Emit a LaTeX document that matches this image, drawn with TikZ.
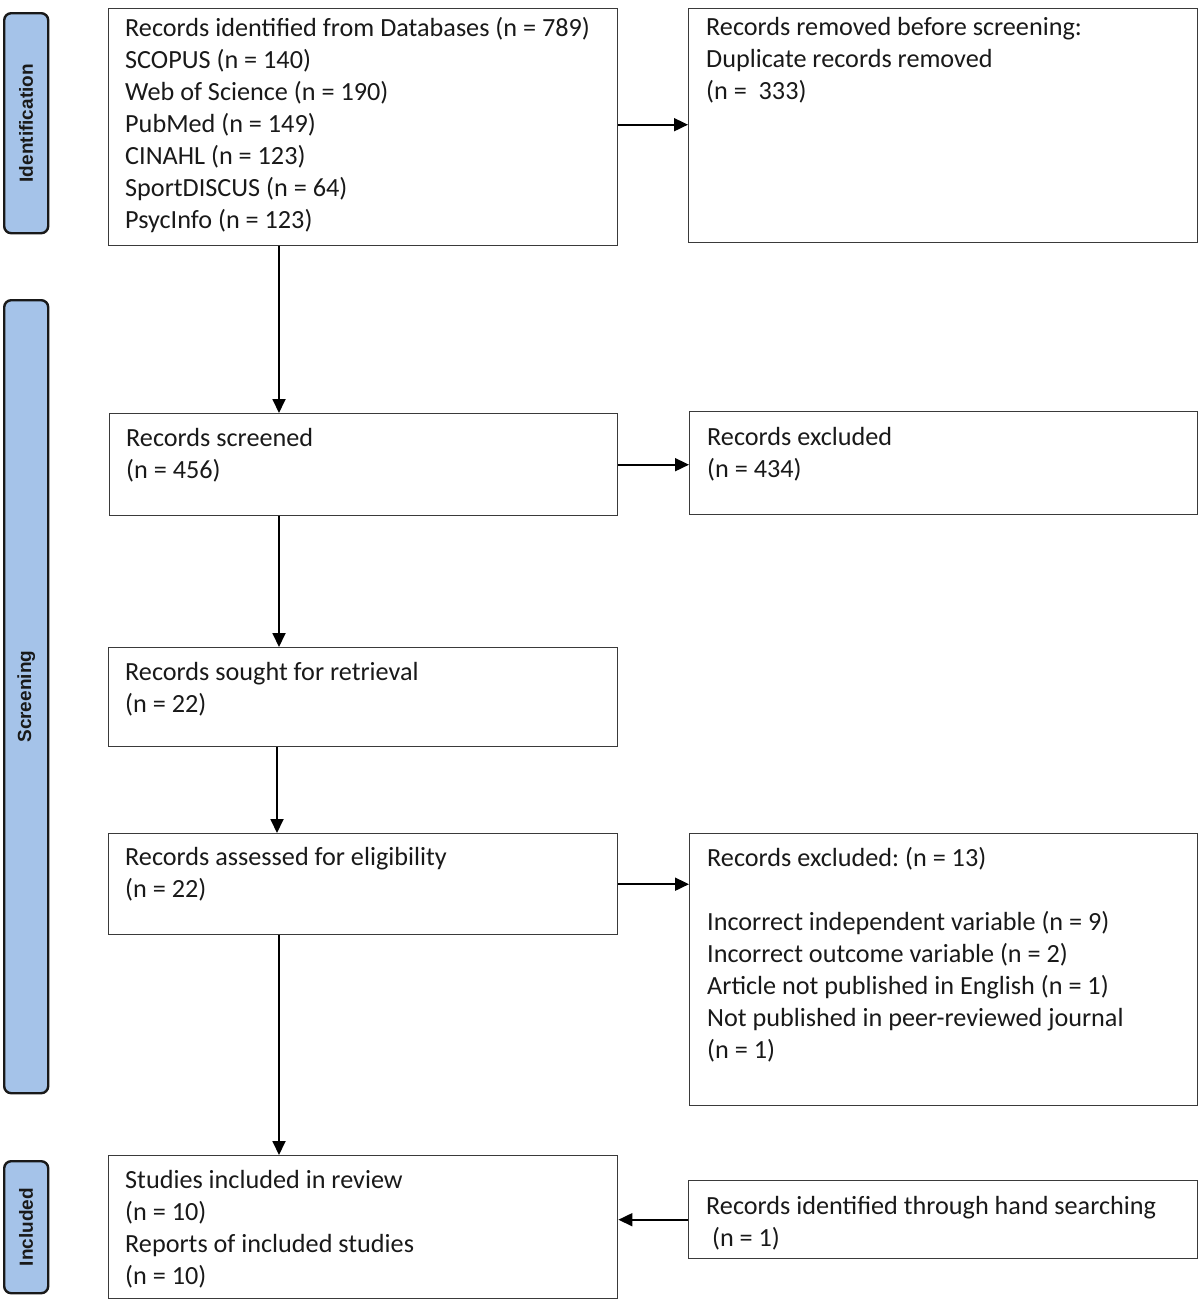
\documentclass[tikz,border=0pt]{standalone}
\usepackage{fontspec}
\setmainfont{Carlito}
\newfontfamily\labelfont{Liberation Sans}
\usetikzlibrary{arrows.meta,calc}
\definecolor{sideblue}{HTML}{A5C3E9}
\definecolor{boxline}{HTML}{3A3A3A}
\begin{document}
\frenchspacing
\begin{tikzpicture}[x=1pt,y=-1pt,
  box/.style={draw=boxline,line width=1.4pt,rectangle,inner sep=0pt,anchor=north west},
  txt/.style={anchor=north west,inner sep=0pt,align=left,font=\fontsize{26.2}{32}\selectfont,text=black!90},
  side/.style={draw=black!90,line width=2.4pt,fill=sideblue,rounded corners=7pt,rectangle,inner sep=0pt,anchor=north west,minimum width=44pt},
  sidetxt/.style={rotate=90,font=\labelfont\bfseries\fontsize{19}{22}\selectfont,text=black!90},
  arr/.style={line width=1.8pt,-{Triangle[length=14pt,width=13pt]}}]
\useasboundingbox (0,0) rectangle (1200,1299);
% side labels
\node[side,minimum height=220pt] (s1) at (3,12) {};
\node[sidetxt] (t1) at (s1.center) {Identification};
\node[side,minimum height=793pt] (s2) at (3,299) {};
\node[sidetxt] (t2) at (s2.center) {Screening};
\node[side,minimum height=132pt] (s3) at (3,1160) {};
\node[sidetxt] (t3) at (s3.center) {Included};
% boxes
\node[box,minimum width=509pt,minimum height=237pt] (A) at (108,8) {};
\node[box,minimum width=509pt,minimum height=234pt] (B) at (688,8) {};
\node[box,minimum width=508pt,minimum height=102pt] (C) at (109,413) {};
\node[box,minimum width=508pt,minimum height=103pt] (D) at (689,411) {};
\node[box,minimum width=509pt,minimum height=99pt] (E) at (108,647) {};
\node[box,minimum width=509pt,minimum height=101pt] (F) at (108,833) {};
\node[box,minimum width=508pt,minimum height=272pt] (G) at (689,833) {};
\node[box,minimum width=509pt,minimum height=143pt] (H) at (108,1155) {};
\node[box,minimum width=509pt,minimum height=78pt] (I) at (688,1180) {};
% texts
\node[txt] (tA) at ([shift={(17,9)}]A.north west) {Records identified from Databases (n = 789)\\SCOPUS (n = 140)\\Web of Science (n = 190)\\PubMed (n = 149)\\CINAHL (n = 123)\\SportDISCUS (n = 64)\\PsycInfo (n = 123)};
\node[txt] (tB) at ([shift={(18,9)}]B.north west) {Records removed before screening:\\Duplicate records removed\\(n =\ \ 333)};
\node[txt] (tC) at ([shift={(17,15)}]C.north west) {Records screened\\(n = 456)};
\node[txt] (tD) at ([shift={(18,16)}]D.north west) {Records excluded\\(n = 434)};
\node[txt] (tE) at ([shift={(17,15)}]E.north west) {Records sought for retrieval\\(n = 22)};
\node[txt] (tF) at ([shift={(17,14)}]F.north west) {Records assessed for eligibility\\(n = 22)};
\node[txt] (tG) at ([shift={(18,14)}]G.north west) {Records excluded: (n = 13)\\[32pt]Incorrect independent variable (n = 9)\\Incorrect outcome variable (n = 2)\\Article not published in English (n = 1)\\Not published in peer-reviewed journal\\(n = 1)};
\node[txt] (tH) at ([shift={(17,15)}]H.north west) {Studies included in review\\(n = 10)\\Reports of included studies\\(n = 10)};
\node[txt] (tI) at ([shift={(18,16)}]I.north west) {Records identified through hand searching\\\ (n = 1)};
% arrows
\draw[arr] ([yshift=2.5pt]A.east) -- ([yshift=2.5pt]A.east -| B.west);
\draw[arr] ([xshift=171pt]A.south west) -- ([xshift=170pt]C.north west);
\draw[arr] (C.east) -- (C.east -| D.west);
\draw[arr] ([xshift=170pt]C.south west) -- ([xshift=171pt]E.north west);
\draw[arr] ([xshift=169pt]E.south west) -- ([xshift=169pt]F.north west);
\draw[arr] (F.east) -- (F.east -| G.west);
\draw[arr] ([xshift=171pt]F.south west) -- ([xshift=171pt]H.north west);
\draw[arr] (I.west) -- (I.west -| H.east);
\end{tikzpicture}
\end{document}
